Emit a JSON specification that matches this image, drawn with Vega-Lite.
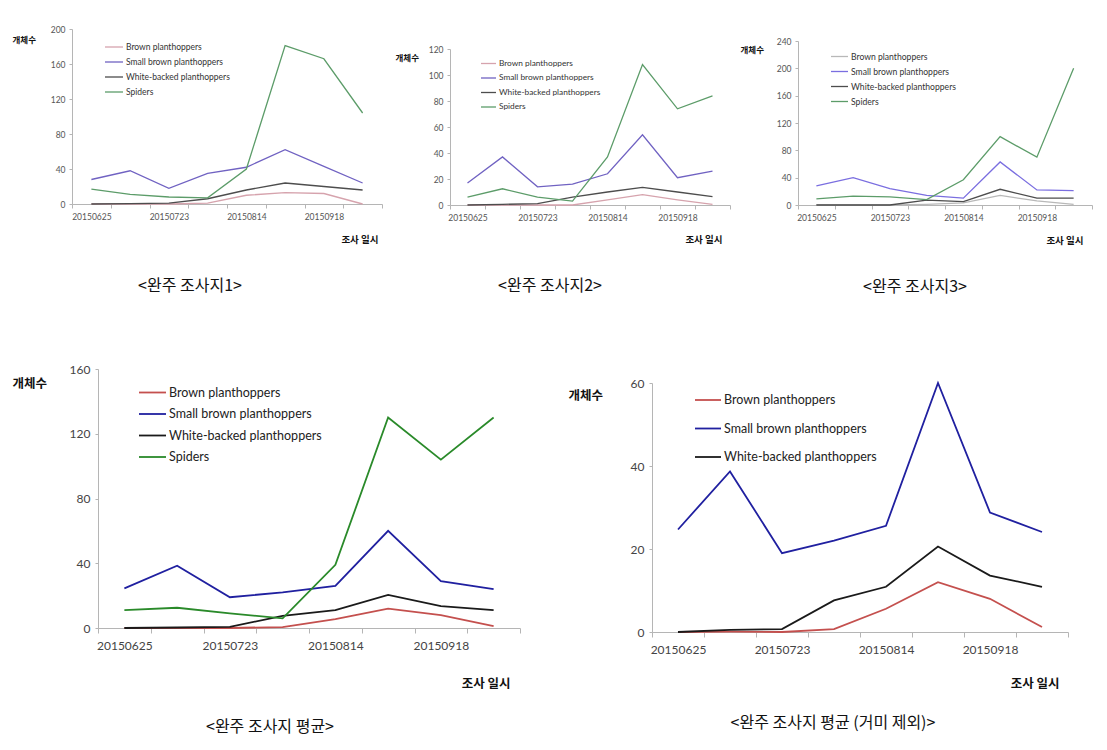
{
  "$schema": "https://vega.github.io/schema/vega-lite/v6.json",
  "padding": {"left": 12, "top": 25, "right": 0, "bottom": 0},
  "background": "white",
  "config": {"view": {"stroke": null}, "font": "Lato", "line": {"strokeJoin": "miter"}},
  "datasets": {
    "a1": [
      {"date": "20150625", "species": "Brown planthoppers", "count": 0},
      {"date": "20150709", "species": "Brown planthoppers", "count": 0},
      {"date": "20150723", "species": "Brown planthoppers", "count": 0},
      {"date": "20150805", "species": "Brown planthoppers", "count": 1},
      {"date": "20150814", "species": "Brown planthoppers", "count": 10},
      {"date": "20150828", "species": "Brown planthoppers", "count": 13},
      {"date": "20150918", "species": "Brown planthoppers", "count": 12},
      {"date": "20151002", "species": "Brown planthoppers", "count": 0},
      {"date": "20150625", "species": "Small brown planthoppers", "count": 28},
      {"date": "20150709", "species": "Small brown planthoppers", "count": 38},
      {"date": "20150723", "species": "Small brown planthoppers", "count": 18},
      {"date": "20150805", "species": "Small brown planthoppers", "count": 35},
      {"date": "20150814", "species": "Small brown planthoppers", "count": 42},
      {"date": "20150828", "species": "Small brown planthoppers", "count": 62},
      {"date": "20150918", "species": "Small brown planthoppers", "count": 43},
      {"date": "20151002", "species": "Small brown planthoppers", "count": 24},
      {"date": "20150625", "species": "White-backed planthoppers", "count": 0},
      {"date": "20150709", "species": "White-backed planthoppers", "count": 0.5},
      {"date": "20150723", "species": "White-backed planthoppers", "count": 1},
      {"date": "20150805", "species": "White-backed planthoppers", "count": 6},
      {"date": "20150814", "species": "White-backed planthoppers", "count": 16},
      {"date": "20150828", "species": "White-backed planthoppers", "count": 24},
      {"date": "20150918", "species": "White-backed planthoppers", "count": 20},
      {"date": "20151002", "species": "White-backed planthoppers", "count": 16},
      {"date": "20150625", "species": "Spiders", "count": 17},
      {"date": "20150709", "species": "Spiders", "count": 11},
      {"date": "20150723", "species": "Spiders", "count": 8},
      {"date": "20150805", "species": "Spiders", "count": 7},
      {"date": "20150814", "species": "Spiders", "count": 40},
      {"date": "20150828", "species": "Spiders", "count": 181},
      {"date": "20150918", "species": "Spiders", "count": 166},
      {"date": "20151002", "species": "Spiders", "count": 104}
    ],
    "a2": [
      {"date": "20150625", "species": "Brown planthoppers", "count": 0},
      {"date": "20150709", "species": "Brown planthoppers", "count": 0},
      {"date": "20150723", "species": "Brown planthoppers", "count": 0},
      {"date": "20150805", "species": "Brown planthoppers", "count": 0},
      {"date": "20150814", "species": "Brown planthoppers", "count": 4},
      {"date": "20150828", "species": "Brown planthoppers", "count": 8},
      {"date": "20150918", "species": "Brown planthoppers", "count": 4},
      {"date": "20151002", "species": "Brown planthoppers", "count": 0.5},
      {"date": "20150625", "species": "Small brown planthoppers", "count": 17},
      {"date": "20150709", "species": "Small brown planthoppers", "count": 37},
      {"date": "20150723", "species": "Small brown planthoppers", "count": 14},
      {"date": "20150805", "species": "Small brown planthoppers", "count": 16},
      {"date": "20150814", "species": "Small brown planthoppers", "count": 24},
      {"date": "20150828", "species": "Small brown planthoppers", "count": 54},
      {"date": "20150918", "species": "Small brown planthoppers", "count": 21},
      {"date": "20151002", "species": "Small brown planthoppers", "count": 26},
      {"date": "20150625", "species": "White-backed planthoppers", "count": 0},
      {"date": "20150709", "species": "White-backed planthoppers", "count": 0.5},
      {"date": "20150723", "species": "White-backed planthoppers", "count": 1},
      {"date": "20150805", "species": "White-backed planthoppers", "count": 6},
      {"date": "20150814", "species": "White-backed planthoppers", "count": 10},
      {"date": "20150828", "species": "White-backed planthoppers", "count": 13.5},
      {"date": "20150918", "species": "White-backed planthoppers", "count": 10},
      {"date": "20151002", "species": "White-backed planthoppers", "count": 6.5},
      {"date": "20150625", "species": "Spiders", "count": 6},
      {"date": "20150709", "species": "Spiders", "count": 12.5},
      {"date": "20150723", "species": "Spiders", "count": 6},
      {"date": "20150805", "species": "Spiders", "count": 3},
      {"date": "20150814", "species": "Spiders", "count": 37},
      {"date": "20150828", "species": "Spiders", "count": 108},
      {"date": "20150918", "species": "Spiders", "count": 74},
      {"date": "20151002", "species": "Spiders", "count": 84}
    ],
    "a3": [
      {"date": "20150625", "species": "Brown planthoppers", "count": 0},
      {"date": "20150709", "species": "Brown planthoppers", "count": 0},
      {"date": "20150723", "species": "Brown planthoppers", "count": 0},
      {"date": "20150805", "species": "Brown planthoppers", "count": 1},
      {"date": "20150814", "species": "Brown planthoppers", "count": 3},
      {"date": "20150828", "species": "Brown planthoppers", "count": 14},
      {"date": "20150918", "species": "Brown planthoppers", "count": 6},
      {"date": "20151002", "species": "Brown planthoppers", "count": 1},
      {"date": "20150625", "species": "Small brown planthoppers", "count": 28},
      {"date": "20150709", "species": "Small brown planthoppers", "count": 40},
      {"date": "20150723", "species": "Small brown planthoppers", "count": 24},
      {"date": "20150805", "species": "Small brown planthoppers", "count": 14},
      {"date": "20150814", "species": "Small brown planthoppers", "count": 10},
      {"date": "20150828", "species": "Small brown planthoppers", "count": 63},
      {"date": "20150918", "species": "Small brown planthoppers", "count": 22},
      {"date": "20151002", "species": "Small brown planthoppers", "count": 21},
      {"date": "20150625", "species": "White-backed planthoppers", "count": 0},
      {"date": "20150709", "species": "White-backed planthoppers", "count": 0},
      {"date": "20150723", "species": "White-backed planthoppers", "count": 0},
      {"date": "20150805", "species": "White-backed planthoppers", "count": 7},
      {"date": "20150814", "species": "White-backed planthoppers", "count": 5},
      {"date": "20150828", "species": "White-backed planthoppers", "count": 23},
      {"date": "20150918", "species": "White-backed planthoppers", "count": 10},
      {"date": "20151002", "species": "White-backed planthoppers", "count": 10},
      {"date": "20150625", "species": "Spiders", "count": 9},
      {"date": "20150709", "species": "Spiders", "count": 13},
      {"date": "20150723", "species": "Spiders", "count": 12},
      {"date": "20150805", "species": "Spiders", "count": 8},
      {"date": "20150814", "species": "Spiders", "count": 37},
      {"date": "20150828", "species": "Spiders", "count": 100},
      {"date": "20150918", "species": "Spiders", "count": 70},
      {"date": "20151002", "species": "Spiders", "count": 200}
    ],
    "a4": [
      {"date": "20150625", "species": "Brown planthoppers", "count": 0},
      {"date": "20150709", "species": "Brown planthoppers", "count": 0},
      {"date": "20150723", "species": "Brown planthoppers", "count": 0},
      {"date": "20150805", "species": "Brown planthoppers", "count": 0.6},
      {"date": "20150814", "species": "Brown planthoppers", "count": 5.5},
      {"date": "20150828", "species": "Brown planthoppers", "count": 12},
      {"date": "20150918", "species": "Brown planthoppers", "count": 8},
      {"date": "20151002", "species": "Brown planthoppers", "count": 1.2},
      {"date": "20150625", "species": "Small brown planthoppers", "count": 24.5},
      {"date": "20150709", "species": "Small brown planthoppers", "count": 38.5},
      {"date": "20150723", "species": "Small brown planthoppers", "count": 19},
      {"date": "20150805", "species": "Small brown planthoppers", "count": 22},
      {"date": "20150814", "species": "Small brown planthoppers", "count": 26},
      {"date": "20150828", "species": "Small brown planthoppers", "count": 60},
      {"date": "20150918", "species": "Small brown planthoppers", "count": 29},
      {"date": "20151002", "species": "Small brown planthoppers", "count": 24},
      {"date": "20150625", "species": "White-backed planthoppers", "count": 0},
      {"date": "20150709", "species": "White-backed planthoppers", "count": 0.3},
      {"date": "20150723", "species": "White-backed planthoppers", "count": 0.7},
      {"date": "20150805", "species": "White-backed planthoppers", "count": 7.5},
      {"date": "20150814", "species": "White-backed planthoppers", "count": 11},
      {"date": "20150828", "species": "White-backed planthoppers", "count": 20.5},
      {"date": "20150918", "species": "White-backed planthoppers", "count": 13.5},
      {"date": "20151002", "species": "White-backed planthoppers", "count": 11},
      {"date": "20150625", "species": "Spiders", "count": 11},
      {"date": "20150709", "species": "Spiders", "count": 12.5},
      {"date": "20150723", "species": "Spiders", "count": 9},
      {"date": "20150805", "species": "Spiders", "count": 6},
      {"date": "20150814", "species": "Spiders", "count": 39},
      {"date": "20150828", "species": "Spiders", "count": 130},
      {"date": "20150918", "species": "Spiders", "count": 104},
      {"date": "20151002", "species": "Spiders", "count": 130}
    ],
    "a5": [
      {"date": "20150625", "species": "Brown planthoppers", "count": 0},
      {"date": "20150709", "species": "Brown planthoppers", "count": 0.1},
      {"date": "20150723", "species": "Brown planthoppers", "count": 0},
      {"date": "20150805", "species": "Brown planthoppers", "count": 0.7},
      {"date": "20150814", "species": "Brown planthoppers", "count": 5.6},
      {"date": "20150828", "species": "Brown planthoppers", "count": 12},
      {"date": "20150918", "species": "Brown planthoppers", "count": 8},
      {"date": "20151002", "species": "Brown planthoppers", "count": 1.2},
      {"date": "20150625", "species": "Small brown planthoppers", "count": 24.7},
      {"date": "20150709", "species": "Small brown planthoppers", "count": 38.7},
      {"date": "20150723", "species": "Small brown planthoppers", "count": 19},
      {"date": "20150805", "species": "Small brown planthoppers", "count": 22},
      {"date": "20150814", "species": "Small brown planthoppers", "count": 25.6},
      {"date": "20150828", "species": "Small brown planthoppers", "count": 60},
      {"date": "20150918", "species": "Small brown planthoppers", "count": 28.8},
      {"date": "20151002", "species": "Small brown planthoppers", "count": 24.1},
      {"date": "20150625", "species": "White-backed planthoppers", "count": 0},
      {"date": "20150709", "species": "White-backed planthoppers", "count": 0.5},
      {"date": "20150723", "species": "White-backed planthoppers", "count": 0.7},
      {"date": "20150805", "species": "White-backed planthoppers", "count": 7.6},
      {"date": "20150814", "species": "White-backed planthoppers", "count": 10.9},
      {"date": "20150828", "species": "White-backed planthoppers", "count": 20.6},
      {"date": "20150918", "species": "White-backed planthoppers", "count": 13.6},
      {"date": "20151002", "species": "White-backed planthoppers", "count": 10.9}
    ]
  },
  "spacing": 68,
  "resolve": {"scale": {"x": "independent", "y": "independent", "color": "independent"}, "legend": {"color": "independent"}},
  "vconcat": [
    {
      "hconcat": [
        {
          "width": 310, "height": 175,
          "data": {"name": "a1"},
          "title": {"text": "<완주 조사지1>", "orient": "bottom", "anchor": "middle", "frame": "group", "dx": -63, "offset": 34, "font": "Noto Sans CJK KR", "fontSize": 16, "fontWeight": "normal", "color": "#111"},
          "mark": {"type": "line", "strokeWidth": 1.3},
          "encoding": {
            "x": {"field": "date", "type": "nominal", "bandPosition": 0.5, "scale": {"type": "band", "paddingInner": 0, "paddingOuter": 0, "range": [-26, 284]},
              "axis": {"title": "조사 일시", "titleFont": "Noto Sans CJK KR", "titleFontWeight": "bold", "titleFontSize": 9.5, "titleColor": "#111", "titleAlign": "right", "titleBaseline": "middle", "titleX": 280, "titleY": 35, "labelAngle": 0, "labelFontSize": 8.5, "labelColor": "#555", "labelPadding": 4, "tickBand": "extent", "tickSize": 4, "tickColor": "#b5b5b5", "domainColor": "#b5b5b5", "grid": false, "labelExpr": "indexof(['20150625','20150723','20150814','20150918'], datum.value) >= 0 ? datum.label : ''"}},
            "y": {"field": "count", "type": "quantitative", "scale": {"domain": [0, 200], "nice": false},
              "axis": {"offset": 26, "values": [0, 40, 80, 120, 160, 200], "title": "개체수", "titleAngle": 0, "titleAlign": "left", "titleBaseline": "middle", "titleX": -60, "titleY": 10, "titleFont": "Noto Sans CJK KR", "titleFontWeight": "bold", "titleFontSize": 8.5, "titleColor": "#111", "labelFontSize": 8.5, "labelColor": "#555", "labelPadding": 4, "tickSize": 3, "tickColor": "#b5b5b5", "domainColor": "#b5b5b5", "grid": false}},
            "color": {"field": "species", "type": "nominal",
              "scale": {"domain": ["Brown planthoppers", "Small brown planthoppers", "White-backed planthoppers", "Spiders"], "range": ["#d6a3ad", "#7062c2", "#4d4d4d", "#5c9c69"]},
              "legend": {"orient": "none", "legendX": 6, "legendY": 8, "title": null, "symbolType": "stroke", "symbolSize": 324, "symbolStrokeWidth": 1.3, "labelFontSize": 8.5, "labelColor": "#333", "labelOffset": 2, "rowPadding": -3.7, "padding": 0}}
          }
        },
        {
          "width": 280, "height": 176,
          "data": {"name": "a2"},
          "title": {"text": "<완주 조사지2>", "orient": "bottom", "anchor": "middle", "frame": "group", "dx": -53, "offset": 34, "font": "Noto Sans CJK KR", "fontSize": 16, "fontWeight": "normal", "color": "#111"},
          "mark": {"type": "line", "strokeWidth": 1.3},
          "encoding": {
            "x": {"field": "date", "type": "nominal", "bandPosition": 0.5, "scale": {"type": "band", "paddingInner": 0, "paddingOuter": 0, "range": [-13, 267]},
              "axis": {"title": "조사 일시", "titleFont": "Noto Sans CJK KR", "titleFontWeight": "bold", "titleFontSize": 9.5, "titleColor": "#111", "titleAlign": "right", "titleBaseline": "middle", "titleX": 259, "titleY": 34, "labelAngle": 0, "labelFontSize": 8.5, "labelColor": "#555", "labelPadding": 4, "tickBand": "extent", "tickSize": 4, "tickColor": "#b5b5b5", "domainColor": "#b5b5b5", "grid": false, "labelExpr": "indexof(['20150625','20150723','20150814','20150918'], datum.value) >= 0 ? datum.label : ''"}},
            "y": {"field": "count", "type": "quantitative", "scale": {"domain": [0, 120], "nice": false, "range": [176, 20]},
              "axis": {"offset": 13, "values": [0, 20, 40, 60, 80, 100, 120], "title": "개체수", "titleAngle": 0, "titleAlign": "left", "titleBaseline": "middle", "titleX": -55, "titleY": 28, "titleFont": "Noto Sans CJK KR", "titleFontWeight": "bold", "titleFontSize": 8.5, "titleColor": "#111", "labelFontSize": 8.5, "labelColor": "#555", "labelPadding": 4, "tickSize": 3, "tickColor": "#b5b5b5", "domainColor": "#b5b5b5", "grid": false}},
            "color": {"field": "species", "type": "nominal",
              "scale": {"domain": ["Brown planthoppers", "Small brown planthoppers", "White-backed planthoppers", "Spiders"], "range": ["#d6a3ad", "#7062c2", "#4d4d4d", "#5c9c69"]},
              "legend": {"orient": "none", "legendX": 17, "legendY": 26, "title": null, "symbolType": "stroke", "symbolSize": 225, "symbolStrokeWidth": 1.3, "labelFontSize": 8.3, "labelColor": "#333", "labelOffset": 2, "rowPadding": 2.5, "padding": 0}}
          }
        },
        {
          "width": 294, "height": 176,
          "data": {"name": "a3"},
          "title": {"text": "<완주 조사지3>", "orient": "bottom", "anchor": "middle", "frame": "group", "dx": -30, "offset": 34, "font": "Noto Sans CJK KR", "fontSize": 16, "fontWeight": "normal", "color": "#111"},
          "mark": {"type": "line", "strokeWidth": 1.3},
          "encoding": {
            "x": {"field": "date", "type": "nominal", "bandPosition": 0.5, "scale": {"type": "band", "paddingInner": 0, "paddingOuter": 0},
              "axis": {"title": "조사 일시", "titleFont": "Noto Sans CJK KR", "titleFontWeight": "bold", "titleFontSize": 9.5, "titleColor": "#111", "titleAlign": "right", "titleBaseline": "middle", "titleX": 285, "titleY": 35, "labelAngle": 0, "labelFontSize": 8.5, "labelColor": "#555", "labelPadding": 4, "tickBand": "extent", "tickSize": 4, "tickColor": "#b5b5b5", "domainColor": "#b5b5b5", "grid": false, "labelExpr": "indexof(['20150625','20150723','20150814','20150918'], datum.value) >= 0 ? datum.label : ''"}},
            "y": {"field": "count", "type": "quantitative", "scale": {"domain": [0, 240], "nice": false, "range": [176, 12]},
              "axis": {"values": [0, 40, 80, 120, 160, 200, 240], "title": "개체수", "titleAngle": 0, "titleAlign": "left", "titleBaseline": "middle", "titleX": -58, "titleY": 20, "titleFont": "Noto Sans CJK KR", "titleFontWeight": "bold", "titleFontSize": 8.5, "titleColor": "#111", "labelFontSize": 8.5, "labelColor": "#555", "labelPadding": 4, "tickSize": 3, "tickColor": "#b5b5b5", "domainColor": "#b5b5b5", "grid": false}},
            "color": {"field": "species", "type": "nominal",
              "scale": {"domain": ["Brown planthoppers", "Small brown planthoppers", "White-backed planthoppers", "Spiders"], "range": ["#b8b8b8", "#7a6ee0", "#4d4d4d", "#5c9c69"]},
              "legend": {"orient": "none", "legendX": 32, "legendY": 18, "title": null, "symbolType": "stroke", "symbolSize": 289, "symbolStrokeWidth": 1.3, "labelFontSize": 8.6, "labelColor": "#333", "labelOffset": 2, "rowPadding": -4.5, "padding": 0}}
          }
        }
      ],
      "spacing": 55,
      "bounds": "flush",
      "resolve": {"scale": {"x": "independent", "y": "independent", "color": "independent"}, "legend": {"color": "independent"}}
    },
    {
      "hconcat": [
        {
          "width": 422, "height": 259,
          "data": {"name": "a4"},
          "title": {"text": "<완주 조사지 평균>", "orient": "bottom", "anchor": "middle", "frame": "group", "dx": -39, "offset": 29, "font": "Noto Sans CJK KR", "fontSize": 16, "fontWeight": "normal", "color": "#111"},
          "mark": {"type": "line", "strokeWidth": 1.8},
          "encoding": {
            "x": {"field": "date", "type": "nominal", "bandPosition": 0.5, "scale": {"type": "band", "paddingInner": 0, "paddingOuter": 0},
              "axis": {"title": "조사 일시", "titleFont": "Noto Sans CJK KR", "titleFontWeight": "bold", "titleFontSize": 12.5, "titleColor": "#111", "titleAlign": "right", "titleBaseline": "middle", "titleX": 412, "titleY": 55, "labelAngle": 0, "labelFontSize": 12, "labelColor": "#444", "labelPadding": 7, "tickBand": "extent", "tickSize": 5, "tickColor": "#b5b5b5", "domainColor": "#b5b5b5", "grid": false, "labelExpr": "indexof(['20150625','20150723','20150814','20150918'], datum.value) >= 0 ? datum.label : ''"}},
            "y": {"field": "count", "type": "quantitative", "scale": {"domain": [0, 160], "nice": false},
              "axis": {"values": [0, 40, 80, 120, 160], "title": "개체수", "titleAngle": 0, "titleAlign": "left", "titleBaseline": "middle", "titleX": -86, "titleY": 14, "titleFont": "Noto Sans CJK KR", "titleFontWeight": "bold", "titleFontSize": 12.5, "titleColor": "#111", "labelFontSize": 12, "labelColor": "#444", "labelPadding": 5, "tickSize": 3, "tickColor": "#b5b5b5", "domainColor": "#b5b5b5", "grid": false}},
            "color": {"field": "species", "type": "nominal",
              "scale": {"domain": ["Brown planthoppers", "Small brown planthoppers", "White-backed planthoppers", "Spiders"], "range": ["#c4504e", "#2020a0", "#1a1a1a", "#2a8a2a"]},
              "legend": {"orient": "none", "legendX": 40, "legendY": 9, "title": null, "symbolType": "stroke", "symbolSize": 729, "symbolStrokeWidth": 1.8, "labelFontSize": 12.5, "labelColor": "#222", "labelOffset": 2, "rowPadding": 0.5, "padding": 0}}
          }
        },
        {
          "width": 416, "height": 263,
          "data": {"name": "a5"},
          "title": {"text": "<완주 조사지 평균 (거미 제외)>", "orient": "bottom", "anchor": "middle", "frame": "group", "dx": -27, "offset": 25, "font": "Noto Sans CJK KR", "fontSize": 16, "fontWeight": "normal", "color": "#111"},
          "mark": {"type": "line", "strokeWidth": 1.8},
          "encoding": {
            "x": {"field": "date", "type": "nominal", "bandPosition": 0.5, "scale": {"type": "band", "paddingInner": 0, "paddingOuter": 0},
              "axis": {"title": "조사 일시", "titleFont": "Noto Sans CJK KR", "titleFontWeight": "bold", "titleFontSize": 12.5, "titleColor": "#111", "titleAlign": "right", "titleBaseline": "middle", "titleX": 407, "titleY": 51, "labelAngle": 0, "labelFontSize": 12, "labelColor": "#444", "labelPadding": 7, "tickBand": "extent", "tickSize": 5, "tickColor": "#b5b5b5", "domainColor": "#b5b5b5", "grid": false, "labelExpr": "indexof(['20150625','20150723','20150814','20150918'], datum.value) >= 0 ? datum.label : ''"}},
            "y": {"field": "count", "type": "quantitative", "scale": {"domain": [0, 60], "nice": false, "range": [263, 14]},
              "axis": {"values": [0, 20, 40, 60], "title": "개체수", "titleAngle": 0, "titleAlign": "left", "titleBaseline": "middle", "titleX": -84, "titleY": 26, "titleFont": "Noto Sans CJK KR", "titleFontWeight": "bold", "titleFontSize": 12.5, "titleColor": "#111", "labelFontSize": 12, "labelColor": "#444", "labelPadding": 5, "tickSize": 3, "tickColor": "#b5b5b5", "domainColor": "#b5b5b5", "grid": false}},
            "color": {"field": "species", "type": "nominal",
              "scale": {"domain": ["Brown planthoppers", "Small brown planthoppers", "White-backed planthoppers"], "range": ["#c4504e", "#2020a0", "#1a1a1a"]},
              "legend": {"orient": "none", "legendX": 42, "legendY": 17, "title": null, "symbolType": "stroke", "symbolSize": 676, "symbolStrokeWidth": 1.8, "labelFontSize": 12.5, "labelColor": "#222", "labelOffset": 2, "rowPadding": 7.5, "padding": 0}}
          }
        }
      ],
      "spacing": 47,
      "resolve": {"scale": {"x": "independent", "y": "independent", "color": "independent"}, "legend": {"color": "independent"}}
    }
  ]
}
